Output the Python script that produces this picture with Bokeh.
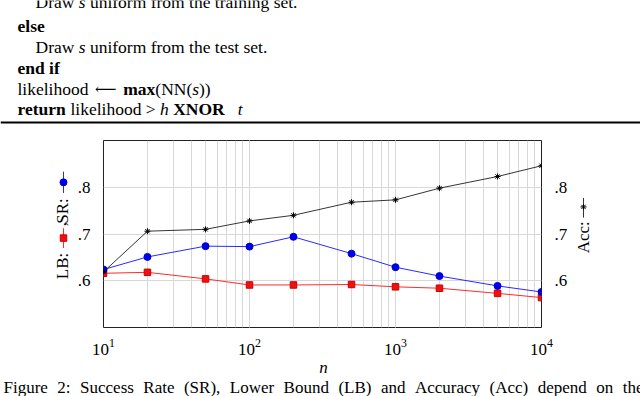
from math import pi
from bokeh.plotting import figure
from bokeh.layouts import column, row
from bokeh.models import LinearAxis, FixedTicker, CustomJSTickFormatter, Label
from bokeh.embed import file_html
from bokeh.resources import INLINE

# ---- data ----
n_values = [10, 20, 50, 100, 200, 500, 1000, 2000, 5000, 10000]
acc = [0.619, 0.706, 0.710, 0.728, 0.740, 0.768, 0.773, 0.798, 0.823, 0.846]
sr = [0.624, 0.651, 0.674, 0.673, 0.694, 0.658, 0.629, 0.610, 0.589, 0.576]
lb = [0.616, 0.618, 0.604, 0.591, 0.591, 0.592, 0.587, 0.584, 0.573, 0.564]
y_ticks = [0.6, 0.7, 0.8]
x_lo, x_hi = 10, 10000
y_lo, y_hi = 0.5, 0.9
caption_words = ["Figure", "2:", "Success", "Rate", "(SR),", "Lower", "Bound", "(LB)", "and",
                 "Accuracy", "(Acc)", "depend", "on", "the"]

SERIF = "Liberation Serif"
RED, RED_EDGE, RED_LINE = "#ee1111", "#cc0000", "#ff2a2a"
BLUE, BLUE_EDGE, BLUE_LINE = "#0000ee", "#0000cc", "#2a2aff"

# Liberation Serif shares Times metrics (units per 1000 em)
_REG = dict(zip("abcdefghijklmnopqrstuvwxyz",
                [444, 500, 444, 500, 444, 333, 500, 500, 278, 278, 500, 278, 778, 500, 500, 500,
                 500, 333, 389, 278, 500, 500, 722, 500, 500, 444]))
_REG.update({"A": 722, "B": 667, "D": 722, "F": 556, "L": 611, "N": 722, "R": 667, "S": 556,
             "X": 722, " ": 250, "(": 333, ")": 333, ",": 250, ".": 250, ":": 278, ">": 564,
             "2": 500})
_BOLD = dict(zip("abcdefghilmnorstux",
                 [500, 556, 444, 556, 444, 333, 500, 556, 278, 278, 833, 556, 500, 444, 389, 333,
                  556, 500]))
_BOLD.update({"N": 722, "O": 778, "R": 722, "X": 722, " ": 250})
_ITAL = {"s": 389, "h": 500, "t": 278, "n": 500, " ": 250}


def text_width(text, style, size):
    table = {"bold": _BOLD, "italic": _ITAL}.get(style, _REG)
    return sum(table.get(c, 500) for c in text) * size / 1000.0


def strip(w, h):
    """A plain drawing panel whose frame fills the canvas, y measured downwards."""
    s = figure(width=w, height=h, x_range=(0, w), y_range=(h, 0),
               x_axis_location=None, y_axis_location=None,
               output_backend="svg", toolbar_location=None,
               min_border=0, outline_line_color=None,
               background_fill_color="white", border_fill_color="white")
    s.grid.grid_line_color = None
    return s


def lab(fig, text, x, y, style="normal", size=17, align="left", color="black",
        angle=0, font=SERIF):
    fig.add_layout(Label(x=x, y=y, text=text, text_font=font, text_font_style=style,
                         text_font_size=f"{size}px", text_align=align, text_baseline="middle",
                         text_color=color, angle=angle))


def text_line(fig, parts, x0, y, size=17.5):
    x = x0
    for part in parts:
        txt, style = part[0], part[1]
        if len(part) > 2:            # fixed-width symbol drawn in a fallback font
            lab(fig, txt, x + part[2] / 2, y, size=15, align="center", font="DejaVu Serif")
            x += part[2]
            continue
        lead = len(txt) - len(txt.lstrip(" "))
        x_text = x + text_width(" " * lead, style, size)
        if txt.strip():
            lab(fig, txt.strip(), x_text, y, style, size)
        x += text_width(txt, style, size)


# ---- top: algorithm text + rule ----
top = strip(640, 132)
text_line(top, [("Draw ", "normal"), ("s", "italic"), (" uniform from the training set.", "normal")], 35, 1)
text_line(top, [("else", "bold")], 17, 25)
text_line(top, [("Draw ", "normal"), ("s", "italic"), (" uniform from the test set.", "normal")], 35, 46)
text_line(top, [("end if", "bold")], 17, 67)
text_line(top, [("likelihood ", "normal"), ("\u27f5", "normal", 26), (" ", "normal"), ("max", "bold"),
                ("(NN(", "normal"), ("s", "italic"), ("))", "normal")], 17, 88)
text_line(top, [("return", "bold"), (" likelihood > ", "normal"), ("h", "italic"), (" ", "normal"),
                ("XNOR", "bold"), ("   ", "normal"), ("t", "italic")], 17, 108)
top.segment(x0=[0], y0=[122], x1=[640], y1=[122], line_color="black", line_width=2)

# ---- chart ----
p = figure(width=496, height=228, x_axis_type="log", x_range=(x_lo, x_hi), y_range=(y_lo, y_hi),
           output_backend="svg", toolbar_location=None,
           min_border_left=28, min_border_right=24, min_border_top=8, min_border_bottom=33,
           background_fill_color="white", border_fill_color="white")

fmt = CustomJSTickFormatter(code="return tick.toFixed(1).replace(/^0/, '')")
p.yaxis.ticker = FixedTicker(ticks=y_ticks)
p.yaxis.formatter = fmt
right = LinearAxis(ticker=FixedTicker(ticks=y_ticks), formatter=fmt)
p.add_layout(right, "right")

for ax in p.xaxis + p.yaxis + [right]:
    ax.axis_line_color = None
    ax.major_tick_line_color = None
    ax.minor_tick_line_color = None
    ax.major_label_text_font = SERIF
    ax.major_label_text_font_size = "17px"
    ax.major_label_text_color = "black"
p.xaxis.major_label_standoff = 5
p.yaxis.major_label_standoff = 7
right.major_label_standoff = 7

p.xgrid.grid_line_color = "#d8d8d8"
p.xgrid.minor_grid_line_color = "#d8d8d8"
p.ygrid.ticker = FixedTicker(ticks=y_ticks)
p.ygrid.grid_line_color = "#d8d8d8"
p.outline_line_color = "#222222"
p.outline_line_width = 1

p.line(n_values, lb, color=RED_LINE, line_width=1)
p.scatter(n_values, lb, marker="square", size=6.5, fill_color=RED, line_color=RED_EDGE)
p.line(n_values, sr, color=BLUE_LINE, line_width=1)
p.scatter(n_values, sr, marker="circle", size=7, fill_color=BLUE, line_color=BLUE_EDGE)
p.line(n_values, acc, color="black", line_width=0.8)
p.scatter(n_values, acc, marker="asterisk", size=6, line_color="black", line_width=1)

# ---- left strip: LB / SR axis title with legend symbols ----
left = strip(74, 228)
lab(left, "LB:", 62, 153, align="center", angle=pi / 2)
left.segment(x0=[63], y0=[107], x1=[63], y1=[131], line_color=RED_LINE, line_width=1)
left.scatter(x=[63], y=[119], marker="square", size=6.5, fill_color=RED, line_color=RED_EDGE)
lab(left, ",", 60, 102, align="center", angle=pi / 2)
lab(left, "SR:", 62, 86, align="center", angle=pi / 2)
left.segment(x0=[63], y0=[38], x1=[63], y1=[64], line_color=BLUE_LINE, line_width=1)
left.scatter(x=[63], y=[51], marker="circle", size=7, fill_color=BLUE, line_color=BLUE_EDGE)

# ---- right strip: Acc axis title ----
rgt = strip(70, 228)
lab(rgt, "Acc:", 13, 118, align="center", angle=pi / 2)
rgt.segment(x0=[13], y0=[70], x1=[13], y1=[94], line_color="black", line_width=0.8)
rgt.scatter(x=[13], y=[81], marker="asterisk", size=6, line_color="black")

# ---- bottom: x label and caption (justified line) ----
bot = strip(640, 36)
lab(bot, "n", 323, 7, "italic", align="center")
cap_size = 17
cap_start, cap_end = 3, 643
widths = [text_width(w, "normal", cap_size) for w in caption_words]
gap = (cap_end - cap_start - sum(widths)) / (len(caption_words) - 1)
xx = cap_start
for w, wd in zip(caption_words, widths):
    lab(bot, w, xx, 27, size=cap_size)
    xx += wd + gap

layout = column(top, row(left, p, rgt, spacing=0), bot, spacing=0)
open("out.html", "w").write(file_html(layout, INLINE))
